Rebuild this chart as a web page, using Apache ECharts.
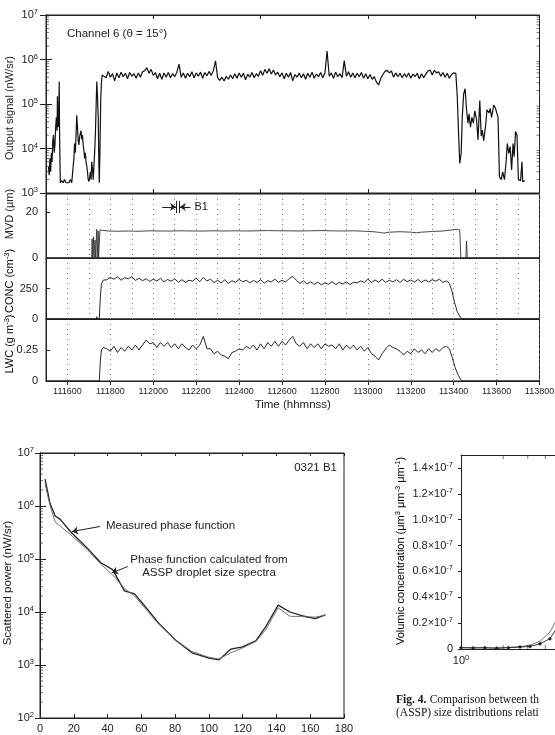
<!DOCTYPE html>
<html>
<head>
<meta charset="utf-8">
<script src="https://cdn.jsdelivr.net/npm/echarts@6.0.0/dist/echarts.min.js"></script>
<style>
html, body { margin: 0; padding: 0; background: #fff; }
#chart { width: 555px; height: 735px; }
</style>
</head>
<body>
<div id="chart"></div>
<script>
// time axis is seconds after 11:15:00

// channel 6 output signal (nW/sr)
const signalPre = [
  [7, 3.9e3], [9, 2.5e3], [11, 6e3], [13, 3e3], [15, 8e3], [17, 5e3], [19, 1.5e4], [21, 2e4],
  [23, 8e3], [25, 1.2e4], [27, 3e4], [29, 5e4], [31, 2.5e4], [32, 1.5e5], [33, 4e4], [35, 3e4],
  [37, 3.2e5], [38, 2e4], [40, 1.7e3], [44, 1.9e3], [48, 1.7e3], [52, 2e3], [56, 1.7e3], [60, 1.8e3],
  [64, 1.7e3], [68, 2e3], [72, 1.7e3], [76, 1.8e3], [78, 6e3], [80, 1.3e4], [82, 8e3], [84, 2e4],
  [86, 5.6e4], [88, 3e4], [90, 1.5e4], [92, 1.2e4], [94, 1.8e4], [96, 2.2e4], [98, 2.5e4], [100, 1.6e4],
  [102, 2e4], [104, 1.2e4], [106, 9e3], [108, 6e3], [110, 8e3], [112, 5e3], [114, 4e3], [116, 3e3],
  [118, 2e3], [120, 1.8e3], [122, 2.2e3], [124, 3e3], [126, 2e3], [128, 5e3], [130, 3.5e3], [132, 2e3],
  [134, 4e3], [136, 8e3], [138, 2e4], [140, 8e4], [142, 3.2e5], [144, 1.5e5], [146, 5e4], [148, 4e3],
  [149, 1.7e3], [151, 1e4], [153, 1.2e5], [155, 3e5], [157, 4.5e5]
];
// in-cloud plateau, one value every 6 s from t = 162, units of 1e5 nW/sr
const plateauStart = 162;
const plateauStep = 6;
const plateauE5 = [
  4.9, 3.9, 5.4, 4.0, 4.8, 3.3, 5.0, 3.9, 5.2, 4.1,
  4.9, 3.7, 5.1, 4.2, 4.8, 3.8, 5.0, 4.0, 5.3, 5.6,
  6.5, 4.9, 6.0, 4.4, 5.1, 3.7, 4.9, 3.6, 5.0, 4.0,
  5.1, 3.9, 4.8, 4.1, 5.2, 7.9, 4.0, 5.0, 3.8, 4.9,
  4.1, 5.3, 3.9, 5.0, 4.2, 5.2, 3.8, 5.1, 4.3, 5.4,
  4.4, 5.6, 9.3, 3.9, 3.4, 4.0, 3.3, 4.2, 3.6, 4.5,
  3.7, 4.8, 3.8, 5.0, 4.0, 4.9, 3.5, 4.7, 4.0, 5.1,
  3.9, 4.8, 4.2, 5.6, 4.4, 6.0, 4.9, 6.2, 4.7, 5.8,
  4.5, 5.2, 4.1, 5.0, 3.7, 4.9, 4.0, 5.1, 3.3, 4.6,
  4.0, 5.0, 3.9, 4.8, 3.6, 4.9, 4.0, 5.2, 3.8, 4.7,
  4.1, 5.1, 3.9, 5.0, 15.5, 4.2, 5.0, 3.8, 5.2, 4.1,
  4.8, 3.9, 9.4, 4.2, 5.3, 4.0, 5.0, 3.9, 4.9, 4.1,
  5.1, 3.8, 4.8, 3.7, 4.6, 3.6, 4.1, 3.1, 2.7, 3.7,
  4.6, 5.4, 5.7, 5.0, 5.5, 4.0, 5.0, 4.1, 4.9, 3.9,
  4.8, 4.0, 5.0, 3.8, 4.7, 4.1, 4.9, 3.7, 4.8, 3.9,
  4.7, 5.5, 5.8, 4.5, 5.7, 5.0, 5.3, 4.2, 5.1, 4.0,
  4.9, 3.8, 4.6, 5.0
];
const signalPost = [
  [1146, 4.9e5], [1150, 1.5e5], [1153, 3.1e4], [1157, 4.6e3], [1161, 7.8e3], [1164, 5.2e4], [1168, 1.7e5],
  [1172, 2.2e5], [1176, 7.4e4], [1180, 3.7e4], [1183, 6e4], [1187, 3e4], [1191, 5e4], [1195, 3.7e4],
  [1199, 7e4], [1204, 4.5e4], [1208, 1.55e4], [1213, 1.2e5], [1217, 1.9e4], [1220, 2.6e4], [1224, 1.5e4],
  [1230, 3.7e4], [1233, 7.4e4], [1239, 6.3e4], [1242, 8e4], [1246, 5e4], [1252, 9.5e4], [1257, 8e4],
  [1264, 5e4], [1268, 2.3e3], [1273, 2e3], [1277, 3e3], [1282, 2e3], [1287, 5.5e3], [1290, 1.3e4],
  [1294, 7.8e3], [1298, 1.1e4], [1302, 3.3e3], [1306, 1.3e4], [1309, 6.5e3], [1313, 2.4e4], [1317, 2e4],
  [1321, 2e3], [1327, 1.9e3], [1331, 5e3], [1333, 1.8e3], [1339, 1.9e3]
];

// MVD (um)
const mvdPts = [
  [0, 0], [128, 0], [129, 8.5], [130, 0], [132, 0], [133, 9.3], [134, 0], [136, 0], [137, 7.8], [138, 0],
  [141, 0], [142, 12.5], [143, 0], [145, 0], [146, 11.8], [147, 0], [150, 0], [151, 12.3], [158, 12.1],
  [175, 11.8], [200, 11.7], [230, 11.8], [260, 11.7], [290, 11.9], [320, 11.8], [350, 11.8], [380, 11.9],
  [410, 11.8], [440, 11.8], [470, 11.9], [500, 11.8], [530, 11.9], [560, 11.8], [590, 11.9], [620, 12.0],
  [650, 11.9], [680, 11.9], [710, 11.8], [740, 11.9], [770, 12.0], [800, 11.9], [830, 11.8], [860, 11.9],
  [890, 11.7], [915, 11.5], [932, 11.2], [945, 10.9], [960, 11.3], [990, 11.5], [1020, 11.3], [1035, 11.0],
  [1050, 11.3], [1080, 11.6], [1110, 11.8], [1130, 12.2], [1150, 12.6], [1157, 12.3], [1160, 0],
  [1174, 0], [1176, 7.5], [1178, 0], [1380, 0]
];
const b1Window = [364, 374];

// CONC (cm-3), one value every 10 s from t = 170
const concPre = [[0, 0], [141, 0], [142, 18], [143, 0], [149, 0], [152, 180], [155, 290], [160, 318]];
const concStart = 170;
const concStep = 10;
const concVals = [
  322, 341, 326, 345, 318, 338, 330, 347, 316, 334,
  314, 330, 308, 326, 312, 333, 304, 324, 310, 328,
  302, 322, 300, 318, 310, 335, 306, 340, 312, 326,
  298, 318, 296, 322, 292, 314, 300, 325, 304, 318,
  296, 316, 300, 322, 294, 314, 304, 326, 300, 318,
  302, 332, 349, 318, 292, 312, 288, 306, 284, 302,
  280, 298, 284, 306, 282, 300, 286, 304, 282, 302,
  296, 312, 300, 328, 298, 320, 302, 326, 300, 318,
  304, 322, 300, 326, 306, 320, 302, 324, 300, 320,
  304, 322, 310, 326, 300, 312
];
const concPost = [[1128, 292], [1135, 230], [1142, 140], [1150, 60], [1158, 15], [1165, 0], [1380, 0]];

// LWC (g m-3), one value every 10 s from t = 170
const lwcPre = [[0, 0], [149, 0], [152, 0.16], [155, 0.25], [160, 0.27]];
const lwcVals = [
  0.26, 0.24, 0.28, 0.23, 0.27, 0.24, 0.28, 0.25, 0.29, 0.25,
  0.29, 0.33, 0.30, 0.31, 0.27, 0.31, 0.28, 0.31, 0.27, 0.30,
  0.26, 0.30, 0.27, 0.25, 0.29, 0.26, 0.29, 0.36, 0.26, 0.26,
  0.22, 0.24, 0.21, 0.20, 0.18, 0.23, 0.24, 0.26, 0.25, 0.28,
  0.26, 0.29, 0.25, 0.30, 0.26, 0.31, 0.28, 0.32, 0.28, 0.32,
  0.29, 0.33, 0.36, 0.30, 0.28, 0.31, 0.26, 0.30, 0.27, 0.30,
  0.26, 0.30, 0.28, 0.29, 0.26, 0.30, 0.25, 0.29, 0.26, 0.29,
  0.25, 0.28, 0.24, 0.27, 0.22, 0.20, 0.17, 0.22, 0.26, 0.29,
  0.27, 0.26, 0.24, 0.21, 0.24, 0.22, 0.26, 0.23, 0.25, 0.22,
  0.26, 0.23, 0.26, 0.24, 0.27, 0.28
];
const lwcPost = [[1128, 0.26], [1136, 0.19], [1144, 0.11], [1152, 0.05], [1160, 0.01], [1166, 0], [1380, 0]];

// time ticks with labels (every 2 min from 11:16:00)
const labelTimes = [60, 180, 300, 420, 540, 660, 780, 900, 1020, 1140, 1260, 1380];

// phase function (scattering angle deg, nW/sr)
const measuredPhase = [
  [3, 3.2e6], [6, 1.1e6], [9, 6.5e5], [12, 5.6e5], [18, 3.3e5], [28, 1.6e5], [36, 8.5e4], [43, 6.3e4],
  [50, 2.5e4], [56, 2.2e4], [62, 1.3e4], [70, 6.3e3], [80, 3.0e3], [90, 1.7e3], [100, 1.35e3], [106, 1.25e3],
  [113, 2.0e3], [120, 2.2e3], [128, 2.9e3], [134, 5.5e3], [141, 1.35e4], [148, 1.0e4], [155, 8.5e3],
  [163, 7.5e3], [169, 8.8e3]
];
const calcPhase = [
  [3, 2.6e6], [6, 1.0e6], [9, 5.0e5], [18, 2.9e5], [28, 1.5e5], [36, 8.0e4], [43, 5.0e4], [50, 2.8e4],
  [56, 2.0e4], [62, 1.2e4], [70, 6.0e3], [80, 3.0e3], [90, 1.8e3], [100, 1.4e3], [106, 1.3e3], [113, 1.7e3],
  [120, 2.1e3], [128, 2.8e3], [134, 4.8e3], [141, 1.2e4], [148, 8.3e3], [155, 8.2e3], [163, 8.0e3],
  [169, 8.7e3]
];

// volumic concentration (diameter um, um3 um-3 um-1)
const diam = [1, 1.22, 1.48, 1.8, 2.18, 2.64, 3.11, 3.67, 4.32, 5.1, 6.0];
const volMeasured = [0.01e-7, 0.008e-7, 0.01e-7, 0.005e-7, 0.01e-7, 0.015e-7, 0.02e-7, 0.04e-7, 0.08e-7, 0.2e-7, 0.35e-7];
const volCalc = [0.01e-7, 0.01e-7, 0.008e-7, 0.01e-7, 0.012e-7, 0.018e-7, 0.03e-7, 0.06e-7, 0.13e-7, 0.28e-7, 0.45e-7];

// minor ticks for log axes
const logMinors = [
  200, 300, 400, 500, 600, 700, 800, 900,
  2e3, 3e3, 4e3, 5e3, 6e3, 7e3, 8e3, 9e3,
  2e4, 3e4, 4e4, 5e4, 6e4, 7e4, 8e4, 9e4,
  2e5, 3e5, 4e5, 5e5, 6e5, 7e5, 8e5, 9e5,
  2e6, 3e6, 4e6, 5e6, 6e6, 7e6, 8e6, 9e6
];
const diamMinors = [2, 3, 4, 5, 6, 7, 8, 9, 20, 30, 40, 50, 60, 70, 80, 90];

// ---- build ----
const signal = signalPre
  .concat(plateauE5.map((v, i) => [plateauStart + i * plateauStep, v * 1e5]))
  .concat(signalPost);
const conc = concPre.concat(concVals.map((v, i) => [concStart + i * concStep, v])).concat(concPost);
const lwc = lwcPre.concat(lwcVals.map((v, i) => [concStart + i * concStep, v])).concat(lwcPost);

const FONT = "Liberation Sans, Arial, sans-serif";
const INK = "#222";

function hhmmss(t) {
  const m = 15 + Math.round(t / 60);
  if (m % 2 !== 0) return "";
  return "11" + String(m).padStart(2, "0") + "00";
}
function logLabel(v) {
  return "{a|10}{s|" + Math.round(Math.log10(v)) + "}";
}
const supRich = {
  a: { fontSize: 11, fontFamily: FONT, color: INK, lineHeight: 14 },
  s: { fontSize: 7.5, fontFamily: FONT, color: INK, verticalAlign: "top", lineHeight: 14 }
};

const dotted = { show: true, lineStyle: { color: "#777", type: [1, 4], width: 1 } };
const line = { lineStyle: { color: INK, width: 1 } };
const tick = (len, inside) => ({ inside: inside, length: len, lineStyle: { color: INK } });

function timeAxis(grid, extra) {
  return Object.assign({
    gridIndex: grid, type: "value", min: 0, max: 1380, interval: 60,
    axisLine: line, axisTick: { show: false }, axisLabel: { show: false },
    splitLine: dotted
  }, extra);
}
function tickSeries(x, y, data, size, offset) {
  return {
    type: "scatter", xAxisIndex: x, yAxisIndex: y, data: data,
    symbol: "rect", symbolSize: size, symbolOffset: offset,
    itemStyle: { color: INK }, silent: true, clip: false, z: 5
  };
}
function box(rect, show) {
  return Object.assign({
    show: show, borderColor: INK, borderWidth: 1, backgroundColor: "transparent",
    outerBoundsMode: "none", containLabel: false
  }, rect);
}

const chart = echarts.init(document.getElementById("chart"), null, { renderer: "canvas" });

const option = {
  animation: false,
  backgroundColor: "#fff",
  textStyle: { fontFamily: FONT },
  grid: [
    box({ left: 46, top: 15, width: 493.5, height: 178 }, true),
    box({ left: 46, top: 194, width: 493.5, height: 64 }, true),
    box({ left: 46, top: 258, width: 493.5, height: 61 }, true),
    box({ left: 46, top: 319, width: 493.5, height: 62 }, true),
    box({ left: 40, top: 453, width: 304, height: 265 }, true),
    box({ left: 461, top: 455, width: 280, height: 194 }, false)
  ],
  xAxis: [
    { gridIndex: 0, type: "value", min: 0, max: 1380, interval: 300, axisLine: line,
      axisTick: tick(4, true), axisLabel: { show: false }, splitLine: { show: false } },
    { gridIndex: 0, type: "value", position: "top", min: 0, max: 1380, interval: 300, axisLine: line,
      axisTick: tick(4, true), axisLabel: { show: false }, splitLine: { show: false } },
    timeAxis(1),
    timeAxis(2),
    timeAxis(3, {
      axisTick: { show: true, customValues: labelTimes, length: 4, lineStyle: { color: INK } },
      axisLabel: { show: true, formatter: hhmmss, fontSize: 9, color: INK, margin: 6, showMaxLabel: true, showMinLabel: false },
      name: "Time (hhmnss)", nameLocation: "middle", nameGap: 18,
      nameTextStyle: { fontSize: 11.5, color: INK, fontFamily: FONT }
    }),
    { gridIndex: 4, type: "value", min: 0, max: 180, interval: 20, axisLine: line,
      axisTick: tick(4, true), axisLabel: { fontSize: 11, color: INK, margin: 5 }, splitLine: { show: false } },
    { gridIndex: 4, type: "value", position: "top", min: 0, max: 180, interval: 20, axisLine: line,
      axisTick: tick(3, true), axisLabel: { show: false }, splitLine: { show: false } },
    { gridIndex: 5, type: "log", min: 1, max: 100, axisLine: line, axisTick: tick(5, true),
      axisLabel: { formatter: logLabel, rich: supRich, margin: 5, showMaxLabel: false },
      splitLine: { show: false } },
    { gridIndex: 5, type: "log", position: "top", min: 1, max: 100, axisLine: line,
      axisTick: tick(5, true), axisLabel: { show: false }, splitLine: { show: false } }
  ],
  yAxis: [
    { gridIndex: 0, type: "log", min: 1e3, max: 1e7, axisLine: line, axisTick: tick(6, true),
      axisLabel: { formatter: logLabel, rich: supRich, margin: 8 }, splitLine: { show: false } },
    { gridIndex: 0, type: "log", position: "right", min: 1e3, max: 1e7, axisLine: line,
      axisTick: tick(6, true), axisLabel: { show: false }, splitLine: { show: false } },
    { gridIndex: 1, type: "value", min: 0, max: 28, interval: 20, axisLine: line, axisTick: tick(4, true),
      axisLabel: { fontSize: 11, color: INK, margin: 8, showMaxLabel: false }, splitLine: { show: false } },
    { gridIndex: 2, type: "value", min: 0, max: 500, interval: 250, axisLine: line, axisTick: tick(4, true),
      axisLabel: { fontSize: 11, color: INK, margin: 8, showMaxLabel: false }, splitLine: { show: false } },
    { gridIndex: 3, type: "value", min: 0, max: 0.5, interval: 0.25, axisLine: line, axisTick: tick(4, true),
      axisLabel: { fontSize: 11, color: INK, margin: 8, showMaxLabel: false }, splitLine: { show: false } },
    { gridIndex: 4, type: "log", min: 1e2, max: 1e7, axisLine: line, axisTick: tick(6, true),
      axisLabel: { formatter: logLabel, rich: supRich, margin: 6 }, splitLine: { show: false } },
    { gridIndex: 4, type: "log", position: "right", min: 1e2, max: 1e7, axisLine: line,
      axisTick: tick(5, true), axisLabel: { show: false }, splitLine: { show: false } },
    { gridIndex: 5, type: "value", min: 0, max: 1.5e-7, interval: 0.2e-7, axisLine: line, axisTick: tick(3, false),
      axisLabel: {
        margin: 8, showMaxLabel: false, rich: supRich,
        formatter: v => v === 0 ? "{a|0}" : "{a|" + (v * 1e7).toFixed(1) + "×10}{s|-7}"
      },
      splitLine: { show: false } }
  ],
  series: [
    {
      type: "line", xAxisIndex: 0, yAxisIndex: 0, data: signal, showSymbol: false,
      lineStyle: { color: "#111", width: 1.2 }, silent: true
    },
    tickSeries(0, 0, logMinors.filter(v => v > 1e3 && v < 1e7).map(v => [0, v]), [3, 0.8], [1.5, 0]),
    tickSeries(0, 0, logMinors.filter(v => v > 1e3 && v < 1e7).map(v => [1380, v]), [3, 0.8], [-1.5, 0]),
    {
      type: "line", xAxisIndex: 2, yAxisIndex: 2, data: mvdPts, showSymbol: false,
      lineStyle: { color: "#333", width: 0.9 }, silent: true,
      markLine: {
        silent: true, animation: false, symbolSize: 6,
        lineStyle: { color: INK, width: 1, type: "solid" },
        label: { show: false },
        data: [
          [{ coord: [325, 22.3], symbol: "none" }, { coord: [b1Window[0], 22.3], symbol: "arrow" }],
          [{ coord: [404, 22.3], symbol: "none", label: { show: true, position: "start", formatter: "B1", fontSize: 11, color: INK, fontFamily: FONT, distance: 4 } },
           { coord: [b1Window[1], 22.3], symbol: "arrow" }],
          [{ coord: [b1Window[0], 19.6], symbol: "none" }, { coord: [b1Window[0], 25], symbol: "none" }],
          [{ coord: [b1Window[1], 19.6], symbol: "none" }, { coord: [b1Window[1], 25], symbol: "none" }]
        ]
      }
    },
    {
      type: "line", xAxisIndex: 3, yAxisIndex: 3, data: conc, showSymbol: false,
      lineStyle: { color: "#111", width: 0.9 }, silent: true
    },
    {
      type: "line", xAxisIndex: 4, yAxisIndex: 4, data: lwc, showSymbol: false,
      lineStyle: { color: "#111", width: 0.9 }, silent: true
    },
    {
      type: "line", xAxisIndex: 5, yAxisIndex: 5, data: measuredPhase, showSymbol: false,
      lineStyle: { color: "#222", width: 1.3 }, silent: true,
      markLine: {
        silent: true, animation: false, symbolSize: 6,
        lineStyle: { color: INK, width: 1, type: "solid" }, label: { show: false },
        data: [
          [{ coord: [35.5, 4.1e5], symbol: "none" }, { coord: [19, 3.3e5], symbol: "arrow" }],
          [{ coord: [52, 7.2e4], symbol: "none" }, { coord: [42.6, 5.5e4], symbol: "arrow" }]
        ]
      }
    },
    {
      type: "line", xAxisIndex: 5, yAxisIndex: 5, data: calcPhase, showSymbol: false,
      lineStyle: { color: "#666", width: 0.9 }, silent: true
    },
    tickSeries(5, 5, logMinors.filter(v => v > 1e2 && v < 1e7).map(v => [0, v]), [3, 0.8], [1.5, 0]),
    {
      type: "line", xAxisIndex: 7, yAxisIndex: 7, data: diam.map((d, i) => [d, volCalc[i]]), showSymbol: false,
      lineStyle: { color: "#555", width: 0.8 }, silent: true
    },
    {
      type: "line", xAxisIndex: 7, yAxisIndex: 7, data: diam.map((d, i) => [d, volMeasured[i]]),
      showSymbol: true, symbol: "diamond", symbolSize: 4,
      itemStyle: { color: INK }, lineStyle: { color: INK, width: 0.9 }, silent: true
    },
    tickSeries(7, 7, diamMinors.map(d => [d, 0]), [0.8, 4], [0, -2]),
    tickSeries(7, 7, diamMinors.map(d => [d, 1.5e-7]), [0.8, 4], [0, 2])
  ],
  graphic: [
    { type: "text", left: 67, top: 28, style: { text: "Channel 6 (θ = 15°)", font: "11.5px " + FONT, fill: INK } },
    { type: "text", x: 10, y: 108, rotation: Math.PI / 2,
      style: { text: "Output signal (nW/sr)", font: "11px " + FONT, fill: INK, align: "center", verticalAlign: "middle", textAlign: "center", textVerticalAlign: "middle" } },
    { type: "text", x: 10, y: 214, rotation: Math.PI / 2,
      style: { text: "MVD (μm)", font: "11px " + FONT, fill: INK, align: "center", verticalAlign: "middle", textAlign: "center", textVerticalAlign: "middle" } },
    { type: "text", x: 10, y: 281, rotation: Math.PI / 2,
      style: { text: "{a|CONC (cm}{s|-3}{a|)}", rich: supRich, align: "center", verticalAlign: "middle", textAlign: "center", textVerticalAlign: "middle" } },
    { type: "text", x: 10, y: 344, rotation: Math.PI / 2,
      style: { text: "{a|LWC (g m}{s|-3}{a|)}", rich: supRich, align: "center", verticalAlign: "middle", textAlign: "center", textVerticalAlign: "middle" } },
    { type: "text", x: 8, y: 583, rotation: Math.PI / 2,
      style: { text: "Scattered power (nW/sr)", font: "11.5px " + FONT, fill: INK, align: "center", verticalAlign: "middle", textAlign: "center", textVerticalAlign: "middle" } },
    { type: "text", x: 401, y: 551, rotation: Math.PI / 2,
      style: { text: "{a|Volumic concentration (μm}{s|3}{a| μm}{s|-3}{a| μm}{s|-1}{a|)}", rich: supRich, align: "center", verticalAlign: "middle", textAlign: "center", textVerticalAlign: "middle" } },
    { type: "text", x: 337, y: 468,
      style: { text: "0321 B1", font: "11.5px " + FONT, fill: INK, align: "right", verticalAlign: "middle", textAlign: "right", textVerticalAlign: "middle" } },
    { type: "text", x: 106, y: 526,
      style: { text: "Measured phase function", font: "11.5px " + FONT, fill: INK, align: "left", verticalAlign: "middle", textAlign: "left", textVerticalAlign: "middle" } },
    { type: "text", x: 209, y: 560,
      style: { text: "Phase function calculated from", font: "11.5px " + FONT, fill: INK, align: "center", verticalAlign: "middle", textAlign: "center", textVerticalAlign: "middle" } },
    { type: "text", x: 209, y: 573,
      style: { text: "ASSP droplet size spectra", font: "11.5px " + FONT, fill: INK, align: "center", verticalAlign: "middle", textAlign: "center", textVerticalAlign: "middle" } },
    { type: "text", x: 396, y: 700,
      style: {
        text: "{b|Fig. 4.} {n|Comparison between th}", align: "left", verticalAlign: "middle", textAlign: "left", textVerticalAlign: "middle",
        rich: { b: { font: "bold 11.5px Liberation Serif, serif", fill: "#111" }, n: { font: "11.5px Liberation Serif, serif", fill: "#111" } }
      } },
    { type: "text", x: 396, y: 713,
      style: { text: "(ASSP) size distributions relati", font: "11.5px Liberation Serif, serif", fill: "#111", align: "left", verticalAlign: "middle", textAlign: "left", textVerticalAlign: "middle" } }
  ]
};

chart.setOption(option);
</script>
</body>
</html>
